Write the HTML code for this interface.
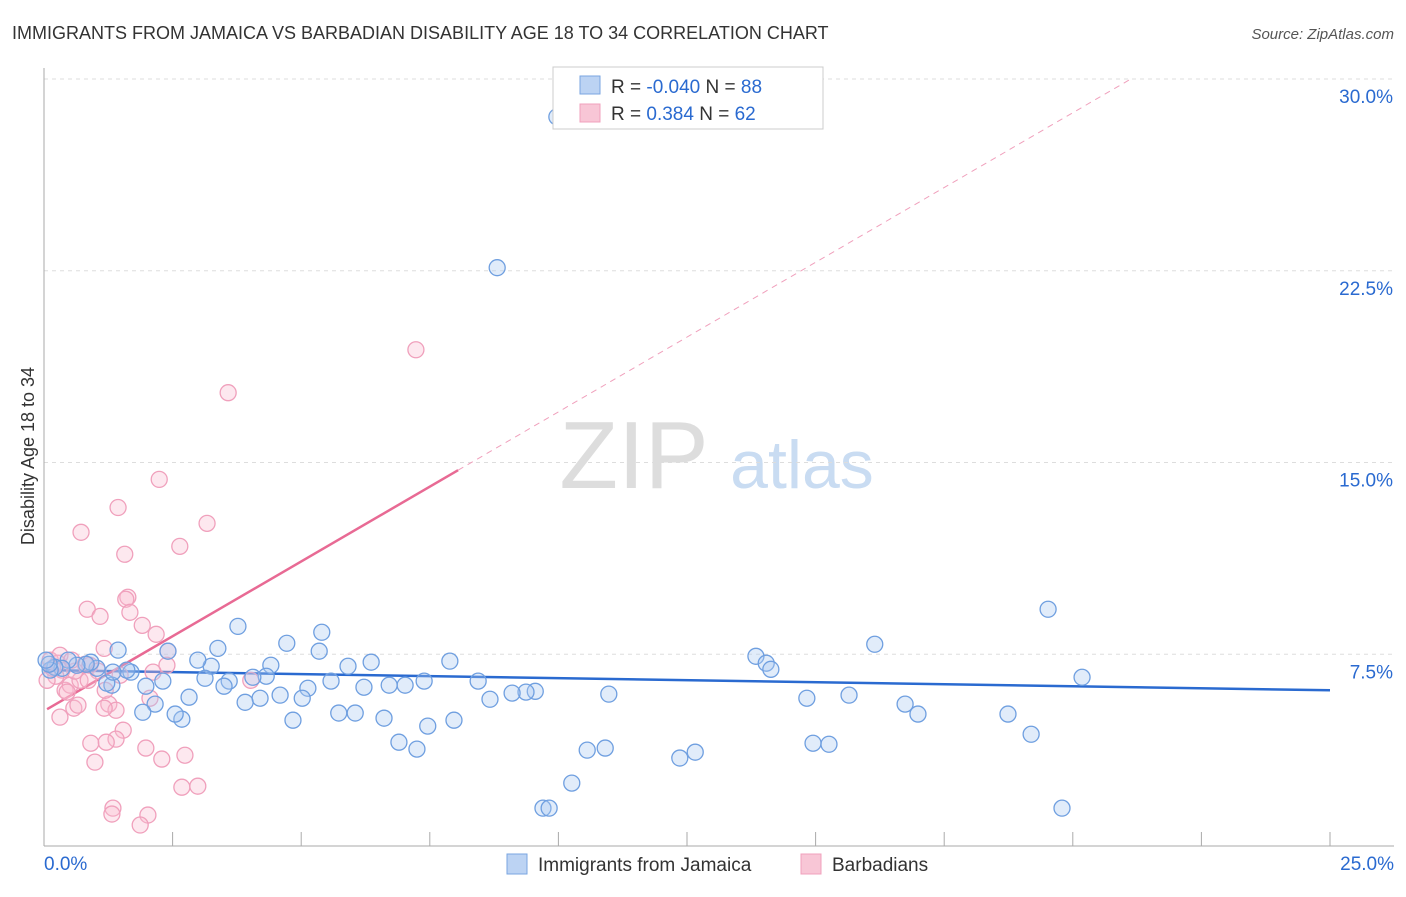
<!DOCTYPE html>
<html><head><meta charset="utf-8"><style>
body{margin:0;background:#fff;font-family:"Liberation Sans",sans-serif}
svg text{font-family:"Liberation Sans",sans-serif}
</style></head><body>
<svg id="chart" width="1406" height="892">
<text x="12" y="39" font-size="18" fill="#333">IMMIGRANTS FROM JAMAICA VS BARBADIAN DISABILITY AGE 18 TO 34 CORRELATION CHART</text>
<text x="1394" y="39" font-size="15" fill="#555" text-anchor="end" font-style="italic">Source: ZipAtlas.com</text>
<text x="634" y="488" font-size="96" fill="#ddd" font-family="Liberation Serif" text-anchor="middle">ZIP</text>
<text x="802" y="488" font-size="68" fill="#c9dcf2" text-anchor="middle">atlas</text>
<text transform="translate(34,456) rotate(-90)" font-size="18" fill="#333" text-anchor="middle">Disability Age 18 to 34</text>
<g id="grid"></g><g id="axes"></g><g id="lines"></g><g id="pts"></g>
<g>
<rect x="553" y="67" width="270" height="62" fill="#fff" stroke="#ccc"/>
<rect x="580" y="76" width="20" height="18" fill="#bcd3f3" stroke="#7aa6e0"/>
<rect x="580" y="104" width="20" height="18" fill="#f8c6d6" stroke="#f0a0bc"/>
<text x="611" y="93" font-size="19" fill="#333">R = <tspan fill="#2a6ad0">-0.040</tspan>   N = <tspan fill="#2a6ad0">88</tspan></text>
<text x="611" y="120" font-size="19" fill="#333">R =   <tspan fill="#2a6ad0">0.384</tspan>   N = <tspan fill="#2a6ad0">62</tspan></text>
</g>
<g>
<rect x="507" y="854" width="20" height="20" fill="#bcd3f3" stroke="#7aa6e0"/>
<text x="538" y="871" font-size="19" fill="#333">Immigrants from Jamaica</text>
<rect x="801" y="854" width="20" height="20" fill="#f8c6d6" stroke="#f0a0bc"/>
<text x="832" y="871" font-size="19" fill="#333">Barbadians</text>
</g>
</svg>
<script>
const xTicks=[0,2.5,5,7.5,10,12.5,15,17.5,20,22.5,25];
const yTicks=[7.5,15,22.5,30];
const yTickLabels=["7.5%","15.0%","22.5%","30.0%"];
const xEndLabels=["0.0%","25.0%"];
const blueX=[9.97,8.81,19.52,20.18,16.15,13.84,14.04,14.13,14.83,15.65,16.74,16.99,18.74,19.19,19.79,14.95,15.26,12.36,12.66,10.98,10.56,10.91,10.26,9.70,9.82,9.55,9.37,9.10,8.67,8.44,7.89,7.97,7.46,7.39,7.25,6.90,7.02,6.71,6.61,6.36,6.22,6.05,5.91,5.73,5.58,5.40,5.35,5.13,5.02,4.84,4.72,4.59,4.41,4.32,4.20,4.06,3.91,3.60,3.50,3.38,3.25,3.13,2.99,2.82,2.68,2.55,2.41,2.31,2.16,1.98,1.92,1.69,1.61,1.44,1.32,1.22,1.03,0.91,0.82,0.64,0.47,0.35,0.21,0.12,0.10,0.04,3.77,1.34];
const blueY=[28.52,22.62,9.26,6.60,7.89,7.42,7.15,6.91,5.78,5.90,5.55,5.16,5.16,4.37,1.48,4.02,3.98,3.44,3.67,5.94,3.75,3.83,2.46,1.48,1.48,6.05,6.02,5.98,5.74,6.45,7.23,4.92,4.69,6.45,3.79,4.06,6.29,6.29,5.00,7.19,6.21,5.20,7.03,5.20,6.45,8.36,7.62,6.17,5.78,4.92,7.93,5.90,7.07,6.64,5.78,6.60,5.62,6.45,6.25,7.73,7.03,6.56,7.27,5.82,4.96,5.16,7.62,6.45,5.55,6.25,5.23,6.80,6.88,7.66,6.29,6.37,6.95,7.19,7.11,7.07,7.27,6.95,6.99,6.88,7.11,7.27,8.59,6.80];
const pinkX=[7.23,3.58,2.24,1.44,3.17,0.72,2.64,1.57,1.63,1.59,0.84,1.09,1.67,1.91,2.18,1.17,2.41,2.39,2.12,2.06,1.26,1.40,1.17,0.58,0.31,1.54,1.40,0.91,1.21,1.98,2.74,2.29,0.99,2.68,2.99,1.34,2.02,1.32,1.87,0.35,0.41,0.51,0.70,0.80,0.23,0.06,0.12,0.27,0.60,0.89,1.05,1.19,0.45,0.66,0.86,0.17,0.31,0.54,1.48,4.02];
const pinkY=[19.41,17.73,14.34,13.24,12.62,12.27,11.72,11.41,9.73,9.65,9.26,8.98,9.14,8.63,8.28,7.73,7.62,7.07,6.80,5.78,5.55,5.31,5.39,5.39,5.04,4.53,4.18,4.02,4.06,3.83,3.55,3.40,3.28,2.30,2.34,1.48,1.21,1.25,0.82,6.88,6.09,6.29,6.48,7.11,6.64,6.48,7.27,7.15,6.84,7.07,6.84,6.09,6.02,5.51,6.48,6.95,7.46,7.27,6.68,6.48];
const blueTrend=[6.88,-0.0316];
const pinkTrend=[5.28,1.17];
const pinkSolidEnd=8.05;
const X=v=>44+v*(1286/25), Y=v=>846-v*(767/30);
const NS="http://www.w3.org/2000/svg";
function mk(t,a,p){const e=document.createElementNS(NS,t);for(const k in a)e.setAttribute(k,a[k]);p.appendChild(e);return e;}
const grid=document.getElementById('grid'),axes=document.getElementById('axes'),lines=document.getElementById('lines'),pts=document.getElementById('pts');
yTicks.forEach((t,i)=>{
 const l=mk('line',{x1:44,x2:1394,y1:Y(t),y2:Y(t),stroke:'#ddd','stroke-dasharray':'4,4'},grid);
 
 
 const tx=mk('text',{x:1393,y:Y(t)+24,'font-size':19,fill:'#2a6ad0','text-anchor':'end'},axes);tx.textContent=yTickLabels[i];
 
 
});
const gt=mk('line',{x1:44,x2:1394,y1:79,y2:79,stroke:'#ddd','stroke-dasharray':'4,4'},grid);


const ya=mk('line',{x1:44,x2:44,y1:68,y2:846,stroke:'#aaa'},axes);


const xa=mk('line',{x1:44,x2:1394,y1:846,y2:846,stroke:'#aaa'},axes);


xTicks.forEach(t=>{const l=mk('line',{x1:X(t),x2:X(t),y1:832,y2:846,stroke:'#aaa'},axes);
 
 });
[[0,'start',44],[25,'end',1394]].forEach((d,i)=>{const tx=mk('text',{x:d[2],y:870,'font-size':19,fill:'#2a6ad0','text-anchor':d[1]},axes);tx.textContent=xEndLabels[i];
 
 });
function dot(x,y,s,f,n){const c=mk('circle',{cx:X(x),cy:Y(y),r:8,fill:f,stroke:s,'stroke-width':1.3},pts);
 
 }
pinkX.forEach((x,i)=>dot(x,pinkY[i],'#f0a0bc','rgba(248,190,210,0.35)','barbadian-point'));
blueX.forEach((x,i)=>dot(x,blueY[i],'#6f9fe0','rgba(170,200,240,0.35)','jamaica-point'));
const bl=mk('line',{x1:X(0),y1:Y(blueTrend[0]),x2:X(25),y2:Y(blueTrend[0]+blueTrend[1]*25),stroke:'#2a6ad0','stroke-width':2.5},lines);


const xs=0.06,xe=(30-pinkTrend[0])/pinkTrend[1];
const pl=mk('line',{x1:X(xs),y1:Y(pinkTrend[0]+pinkTrend[1]*xs),x2:X(pinkSolidEnd),y2:Y(pinkTrend[0]+pinkTrend[1]*pinkSolidEnd),stroke:'#e86a94','stroke-width':2.5},lines);


const pd=mk('line',{x1:X(pinkSolidEnd),y1:Y(pinkTrend[0]+pinkTrend[1]*pinkSolidEnd),x2:X(xe),y2:Y(30),stroke:'#f0a0bc','stroke-width':1,'stroke-dasharray':'6,5'},lines);


</script>
</body></html>
